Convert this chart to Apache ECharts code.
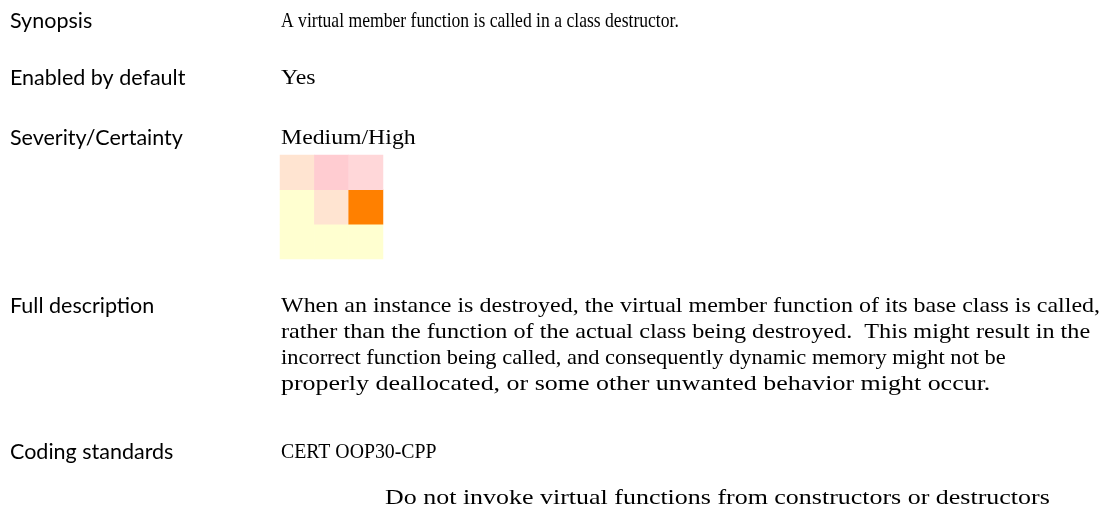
<!DOCTYPE html>
<html>
<head>
<meta charset="utf-8">
<script src="https://cdn.jsdelivr.net/npm/echarts@6/dist/echarts.min.js"></script>
<style>
html,body{margin:0;padding:0;background:#fff;}
#c{width:1116px;height:507px;}
</style>
</head>
<body>
<div id="c"></div>
<script>
// Heatmap categories
const certainty = ['Low', 'Medium', 'High'];      // columns (x)
const severity = ['Low', 'Medium', 'High'];       // rows (y, bottom to top)
// risk level per cell, rows listed top (High severity) to bottom (Low severity)
const riskHigh = [1, 3, 2];
const riskMedium = [0, 1, 4];
const riskLow = [0, 0, 0];
const levelColors = ['#ffffd0', '#ffe4d1', '#ffd7d9', '#ffccd1', '#ff8000'];

// Document texts
const labels = ['Synopsis', 'Enabled by default', 'Severity/Certainty', 'Full description', 'Coding standards'];
const synopsis = 'A virtual member function is called in a class destructor.';
const enabled = 'Yes';
const sevCert = 'Medium/High';
const description = [
  'When an instance is destroyed, the virtual member function of its base class is called,',
  'rather than the function of the actual class being destroyed.  This might result in the',
  'incorrect function being called, and consequently dynamic memory might not be',
  'properly deallocated, or some other unwanted behavior might occur.'
];
const standard = 'CERT OOP30-CPP';
const standardDesc = 'Do not invoke virtual functions from constructors or destructors';

const data = [];
[riskLow, riskMedium, riskHigh].forEach((row, yi) => {
  row.forEach((v, xi) => data.push([xi, yi, v]));
});

const sansFont = '21.5px Lato, "Open Sans", sans-serif';
const serifFont = '22px "Liberation Serif", "DejaVu Serif", serif';

function txt(text, x, y, font, sx) {
  return {
    type: 'text', x: x, y: y, scaleX: sx || 1,
    style: { text: text, x: 0, y: 0, font: font, fill: '#000', verticalAlign: 'middle', align: 'left' }
  };
}

const labelY = [21, 78, 138, 306, 452];
const graphics = [];
labels.forEach((l, i) => graphics.push(txt(l, 10, labelY[i], sansFont)));
graphics.push(txt(synopsis, 281, 21, serifFont, 0.80));
graphics.push(txt(enabled, 281, 78, serifFont, 1.08));
graphics.push(txt(sevCert, 281, 138, serifFont, 1.08));
const descY = [306, 332, 358, 384];
const descScale = [1.09, 1.10, 1.02, 1.18];
description.forEach((d, i) => graphics.push(txt(d, 281, descY[i], serifFont, descScale[i])));
graphics.push(txt(standard, 281, 452, serifFont, 0.9));
graphics.push(txt(standardDesc, 385, 498, serifFont, 1.18));

const chart = echarts.init(document.getElementById('c'));
chart.setOption({
  backgroundColor: '#fff',
  animation: false,
  grid: { left: 280, top: 155, width: 103, height: 104 },
  xAxis: { type: 'category', data: certainty, show: false },
  yAxis: { type: 'category', data: severity, show: false },
  visualMap: {
    show: false, type: 'piecewise', dimension: 2,
    pieces: levelColors.map((c, i) => ({ value: i, color: c }))
  },
  series: [{
    type: 'heatmap', data: data,
    itemStyle: { borderWidth: 0 },
    emphasis: { disabled: true }
  }],
  graphic: graphics
});
</script>
</body>
</html>
